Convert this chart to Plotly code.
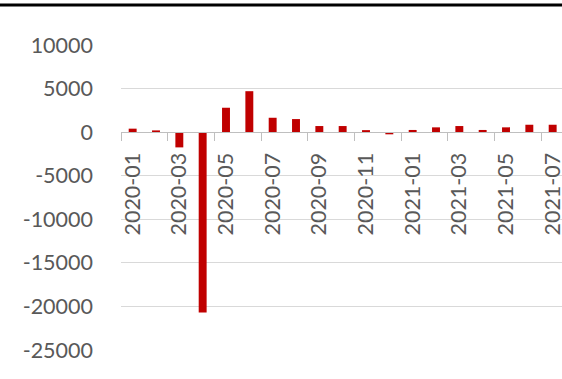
import plotly.graph_objects as go

categories = ["2020-01", "2020-02", "2020-03", "2020-04", "2020-05", "2020-06",
              "2020-07", "2020-08", "2020-09", "2020-10", "2020-11", "2020-12",
              "2021-01", "2021-02", "2021-03", "2021-04", "2021-05", "2021-06",
              "2021-07"]
values = [400, 200, -1750, -20700, 2800, 4700, 1650, 1500, 700, 700, 230, -250,
          250, 550, 700, 250, 550, 850, 850]
y_ticks = [10000, 5000, 0, -5000, -10000, -15000, -20000, -25000]
y_tick_text = [str(v) for v in y_ticks]

W, H = 562, 379
ML, MR, MT, MB = 121, 0, 45, 29
YMIN, YMAX = -25000, 10000

x_idx = list(range(len(categories)))

fig = go.Figure(go.Bar(
    x=x_idx, y=values, marker=dict(color="#C00000", line=dict(width=0)),
    width=0.34,
))

font = dict(family="Lato, Calibri, sans-serif", size=21.5, color="#595959")

fig.update_layout(
    width=W, height=H,
    margin=dict(l=ML, r=MR, t=MT, b=MB, pad=0, autoexpand=False),
    paper_bgcolor="white", plot_bgcolor="white",
    showlegend=False,
    font=font,
    xaxis=dict(
        automargin=False,
        range=[-0.5, 18.4],
        tickmode="array", tickvals=x_idx[::2], ticktext=categories[::2],
        tickangle=-90, ticks="", showgrid=False, zeroline=False,
        showline=True, linecolor="#bfbfbf", linewidth=1,
        anchor="free", position=(0 - YMIN) / (YMAX - YMIN),
        ticklabelstandoff=11, ticklabeloverflow="allow",
        minor=dict(tickmode="linear", tick0=-0.5, dtick=2, ticks="outside",
                   ticklen=8, tickcolor="#bfbfbf", tickwidth=1, showgrid=False),
        tickfont=font,
    ),
    yaxis=dict(
        automargin=False,
        range=[YMIN, YMAX],
        tickmode="array", tickvals=y_ticks, ticktext=y_tick_text,
        showgrid=True, gridcolor="#d9d9d9", gridwidth=1,
        zeroline=False, showline=False, ticks="",
        ticklabelstandoff=27,
        tickfont=font,
    ),
)

pw = W - ML - MR
ph = H - MT - MB
fig.add_shape(type="line", xref="paper", yref="paper",
              x0=-ML / pw - 0.05, x1=1.1,
              y0=1 + (MT - 5) / ph, y1=1 + (MT - 5) / ph,
              line=dict(color="black", width=3))

fig.write_html("out.html")
